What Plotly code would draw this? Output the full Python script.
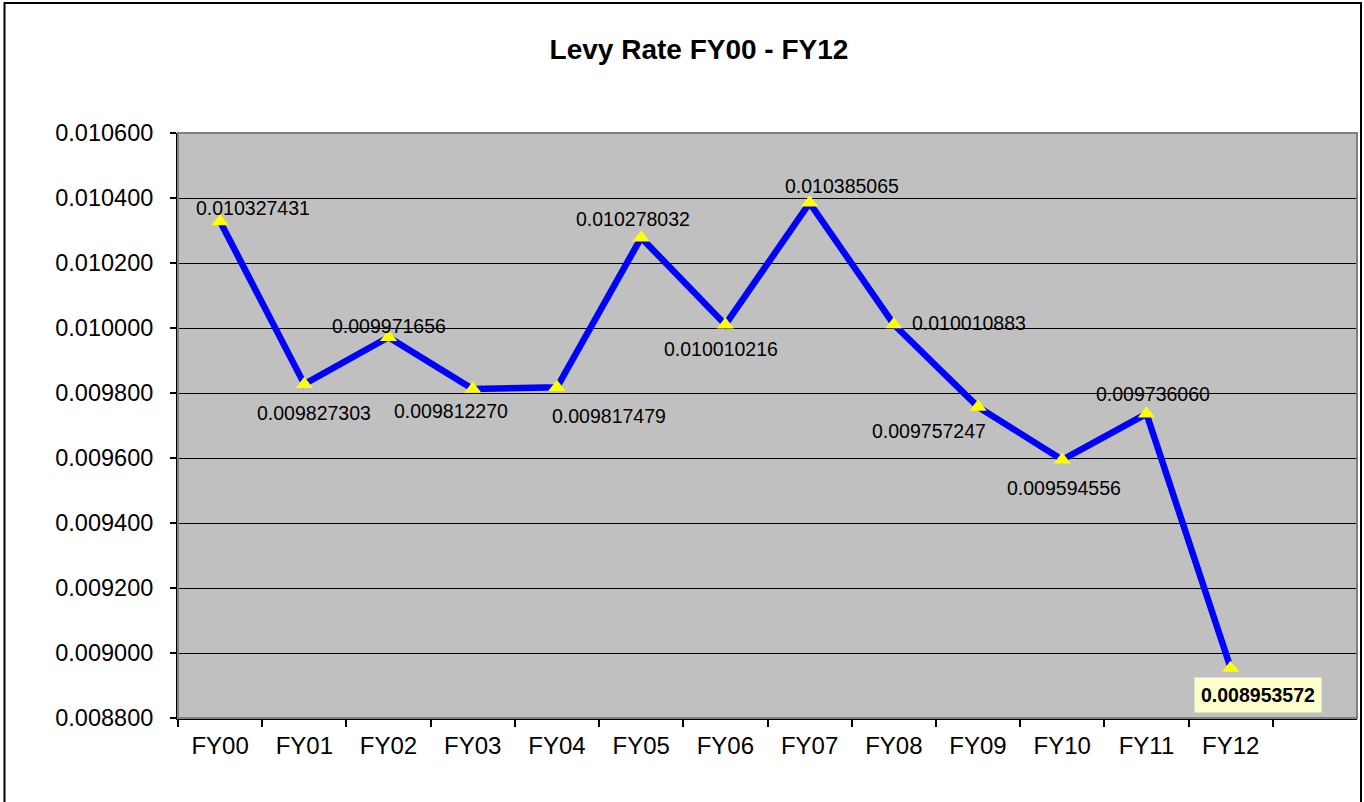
import plotly.graph_objects as go

categories = ["FY00", "FY01", "FY02", "FY03", "FY04", "FY05", "FY06",
              "FY07", "FY08", "FY09", "FY10", "FY11", "FY12"]
levy_rate = [0.010327431, 0.009827303, 0.009971656, 0.009812270, 0.009817479,
             0.010278032, 0.010010216, 0.010385065, 0.010010883, 0.009757247,
             0.009594556, 0.009736060, 0.008953572]
label_text = ["0.010327431", "0.009827303", "0.009971656", "0.009812270", "0.009817479",
              "0.010278032", "0.010010216", "0.010385065", "0.010010883", "0.009757247",
              "0.009594556", "0.009736060", "0.008953572"]
y_ticks = [0.0088, 0.0090, 0.0092, 0.0094, 0.0096, 0.0098, 0.0100,
           0.0102, 0.0104, 0.0106]
y_tick_text = ["0.008800", "0.009000", "0.009200", "0.009400", "0.009600",
               "0.009800", "0.010000", "0.010200", "0.010400", "0.010600"]

# label offsets in pixels (dx right, dy down) - styling only
label_dx = [33, 10, 0, -22, 52, -8, -4, 32, 75, -49, 2, 7, 27]
label_dy = [-14, 29, -11, 22, 29, -19, 24, -17, -1, 24, 28, -20, 27]

FONT = "Liberation Sans, Arial, sans-serif"
W, H = 1364, 802
L, R, T, B = 178, 7, 133, 84
PW, PH = W - L - R, H - T - B

fig = go.Figure()
fig.add_trace(go.Scatter(
    x=categories, y=levy_rate, mode="lines+markers",
    line=dict(color="#0000FF", width=6.5),
    marker=dict(symbol="triangle-up", size=15, color="#FFFF00",
                line=dict(width=0)),
    hoverinfo="x+y", showlegend=False,
))

annotations = []
for i, (c, v, t) in enumerate(zip(categories, levy_rate, label_text)):
    last = i == len(categories) - 1
    annotations.append(dict(
        x=c, y=v, xref="x", yref="y", text=f"<b>{t}</b>" if last else t,
        showarrow=False, xshift=label_dx[i], yshift=-label_dy[i],
        font=dict(family=FONT, size=19.5, color="black"),
        bgcolor="#FFFFCC" if last else None,
        borderpad=6 if last else 0,
    ))

def px_x(p):
    return (p - L) / PW

def px_y(p):
    return (H - B - p) / PH

shapes = [
    # plot area border (top/right gray)
    dict(type="rect", xref="paper", yref="paper", x0=0, x1=1, y0=0, y1=1,
         line=dict(color="#808080", width=2), layer="above"),
    # outer chart frame
    dict(type="rect", xref="paper", yref="paper",
         x0=px_x(4.5), x1=px_x(1361), y0=px_y(806), y1=px_y(3),
         line=dict(color="black", width=2), layer="below"),
]

fig.update_layout(
    width=W, height=H,
    margin=dict(l=L, r=R, t=T, b=B, autoexpand=False),
    paper_bgcolor="white", plot_bgcolor="#C0C0C0",
    title=dict(text="<b>Levy Rate FY00 - FY12</b>", x=699 / W, xanchor="center",
               y=1 - 49 / H, yanchor="middle", xref="container", yref="container",
               font=dict(family=FONT, size=28, color="black")),
    xaxis=dict(type="category", categoryorder="array", categoryarray=categories,
               range=[-0.5, 13.5], tickson="boundaries", ticks="outside",
               ticklen=7, tickwidth=1.5, tickcolor="black",
               showline=True, linecolor="black", linewidth=2,
               showgrid=False, zeroline=False,
               tickfont=dict(family=FONT, size=24, color="black"),
               ticklabelstandoff=5),
    yaxis=dict(range=[0.0088, 0.0106], tickvals=y_ticks, ticktext=y_tick_text,
               ticks="outside", ticklen=6, tickwidth=1.5, tickcolor="black",
               showline=True, linecolor="black", linewidth=2,
               showgrid=True, gridcolor="black", gridwidth=1.3,
               zeroline=False,
               tickfont=dict(family=FONT, size=23.5, color="black"),
               ticklabelstandoff=12),
    annotations=annotations,
    shapes=shapes,
)

fig.write_html("out.html",
               config={"displayModeBar": False},
               post_script="document.body.style.margin='0';document.body.style.overflow='hidden';")
